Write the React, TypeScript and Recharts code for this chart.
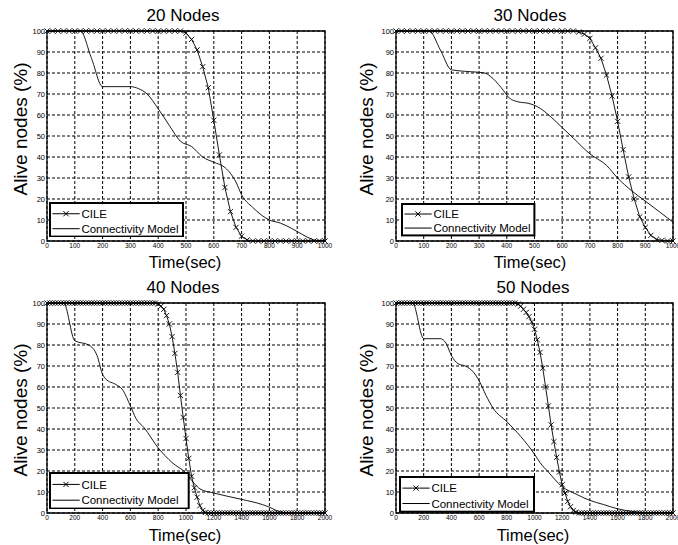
import React from "react";
import {
  LineChart,
  Line,
  XAxis,
  YAxis,
  CartesianGrid,
  ReferenceArea,
  Legend,
} from "recharts";

const FONT = "'Liberation Sans', Arial, Helvetica, sans-serif";

const yTicks = [0, 10, 20, 30, 40, 50, 60, 70, 80, 90, 100];
const xTicks1000 = [0, 100, 200, 300, 400, 500, 600, 700, 800, 900, 1000];
const xTicks2000 = [0, 200, 400, 600, 800, 1000, 1200, 1400, 1600, 1800, 2000];

// CILE sampled every 20 s
const cileTime1000 = [
  0, 20, 40, 60, 80, 100, 120, 140, 160, 180,
  200, 220, 240, 260, 280, 300, 320, 340, 360, 380,
  400, 420, 440, 460, 480, 500, 520, 540, 560, 580,
  600, 620, 640, 660, 680, 700, 720, 740, 760, 780,
  800, 820, 840, 860, 880, 900, 920, 940, 960, 980,
  1000,
];
const cileTime2000 = [
  0, 20, 40, 60, 80, 100, 120, 140, 160, 180,
  200, 220, 240, 260, 280, 300, 320, 340, 360, 380,
  400, 420, 440, 460, 480, 500, 520, 540, 560, 580,
  600, 620, 640, 660, 680, 700, 720, 740, 760, 780,
  800, 820, 840, 860, 880, 900, 920, 940, 960, 980,
  1000, 1020, 1040, 1060, 1080, 1100, 1120, 1140, 1160, 1180,
  1200, 1220, 1240, 1260, 1280, 1300, 1320, 1340, 1360, 1380,
  1400, 1420, 1440, 1460, 1480, 1500, 1520, 1540, 1560, 1580,
  1600, 1620, 1640, 1660, 1680, 1700, 1720, 1740, 1760, 1780,
  1800, 1820, 1840, 1860, 1880, 1900, 1920, 1940, 1960, 1980,
  2000,
];

const cile20 = [
  100, 100, 100, 100, 100, 100, 100, 100, 100, 100,
  100, 100, 100, 100, 100, 100, 100, 100, 100, 100,
  100, 100, 100, 100, 100, 99, 96, 91, 83, 73,
  57.5, 41, 25.5, 14, 6.5, 2.3, 0.5, 0, 0, 0,
  0, 0, 0, 0, 0, 0, 0, 0, 0, 0,
  0,
];
const cile30 = [
  100, 100, 100, 100, 100, 100, 100, 100, 100, 100,
  100, 100, 100, 100, 100, 100, 100, 100, 100, 100,
  100, 100, 100, 100, 100, 100, 100, 100, 100, 100,
  100, 100, 100, 99.5, 98.5, 96.5, 92, 87, 79, 69,
  57, 43.5, 30.5, 20, 11.5, 6.5, 2.7, 0.8, 0.3, 0,
  0,
];
const cile40 = [
  100, 100, 100, 100, 100, 100, 100, 100, 100, 100,
  100, 100, 100, 100, 100, 100, 100, 100, 100, 100,
  100, 100, 100, 100, 100, 100, 100, 100, 100, 100,
  100, 100, 100, 100, 100, 100, 100, 100, 100, 100,
  99.5, 98.5, 97, 94, 90, 84, 76, 67, 56, 45.5,
  35.5, 26, 17.5, 12, 7.5, 3.5, 1.2, 0.3, 0, 0,
  0, 0, 0, 0, 0, 0, 0, 0, 0, 0,
  0, 0, 0, 0, 0, 0, 0, 0, 0, 0,
  0, 0, 0, 0, 0, 0, 0, 0, 0, 0,
  0, 0, 0, 0, 0, 0, 0, 0, 0, 0,
  0,
];
const cile50 = [
  100, 100, 100, 100, 100, 100, 100, 100, 100, 100,
  100, 100, 100, 100, 100, 100, 100, 100, 100, 100,
  100, 100, 100, 100, 100, 100, 100, 100, 100, 100,
  100, 100, 100, 100, 100, 100, 100, 100, 100, 100,
  100, 100, 100, 100, 99.5, 98.5, 97, 95.5, 93.5, 91,
  87.5, 82.5, 76.5, 69, 60, 51, 42, 34, 26.5, 19.5,
  13.5, 9.5, 5.5, 3, 1.2, 0.4, 0, 0, 0, 0,
  0, 0, 0, 0, 0, 0, 0, 0, 0, 0,
  0, 0, 0, 0, 0, 0, 0, 0, 0, 0,
  0, 0, 0, 0, 0, 0, 0, 0, 0, 0,
  0,
];

// Connectivity Model
const connTime20 = [0, 120, 160, 200, 300, 330, 360, 400, 440, 480, 520, 560, 600, 640, 680, 700, 740, 800, 840, 880, 920, 950, 970, 1000];
const conn20 = [100, 100, 87, 73.5, 73.5, 72.5, 70, 63, 55, 47.5, 45, 40, 37.5, 35, 28, 22, 16, 10, 8.5, 6, 3, 1, 0.3, 0.3];

const connTime30 = [0, 120, 160, 200, 250, 320, 340, 380, 410, 440, 480, 510, 560, 600, 640, 700, 760, 800, 850, 900, 950, 1000];
const conn30 = [100, 100, 91, 81.5, 80.8, 80, 78.5, 73, 68, 66.3, 65.5, 64, 59, 54, 49, 41.5, 36, 30, 24, 19, 14, 9];

const connTime40 = [0, 120, 200, 300, 360, 400, 420, 500, 540, 600, 640, 700, 800, 900, 1000, 1060, 1100, 1200, 1400, 1550, 1600, 1650, 1700, 1800, 2000];
const conn40 = [100, 100, 82, 80, 75, 66, 64, 61, 59, 51, 45, 40.5, 31, 24, 19, 14, 11.5, 9.5, 6.5, 4, 2.8, 1.2, 0.3, 0, 0];

const connTime50 = [0, 120, 200, 320, 360, 400, 450, 500, 560, 600, 650, 700, 800, 900, 1000, 1040, 1100, 1200, 1300, 1400, 1500, 1600, 1700, 1800, 2000];
const conn50 = [100, 100, 83, 83, 81, 75, 71, 70, 67, 63, 56, 50, 43.5, 36.5, 28, 24, 19.5, 12.5, 9, 6, 4, 2, 0.8, 0.2, 0];

const toPoints = (t: number[], v: number[]) => t.map((x, i) => ({ t: x, v: v[i] }));

const Y_AXIS_W = 30;
const X_AXIS_H = 14;

const panels = [
  {
    title: "20 Nodes", cile: toPoints(cileTime1000, cile20), conn: toPoints(connTime20, conn20),
    xMax: 1000, xTicks: xTicks1000,
    left: 0, top: 0, width: 339, height: 270, plot: { top: 31, right: 14, bottom: 29, left: 47 },
    titleX: 183, titleY: 21.7, xlabX: 185, xlabY: 268.3, ylabX: 20, ylabY: 129,
    legend: { x: 49.3, y: 201.7, w: 135, h: 35.6 },
  },
  {
    title: "30 Nodes", cile: toPoints(cileTime1000, cile30), conn: toPoints(connTime30, conn30),
    xMax: 1000, xTicks: xTicks1000,
    left: 339, top: 0, width: 339, height: 270, plot: { top: 31, right: 5, bottom: 29, left: 57 },
    titleX: 530, titleY: 21.7, xlabX: 530, xlabY: 268.3, ylabX: 366, ylabY: 129,
    legend: { x: 62.3, y: 203.3, w: 134.4, h: 33.4 },
  },
  {
    title: "40 Nodes", cile: toPoints(cileTime2000, cile40), conn: toPoints(connTime40, conn40),
    xMax: 2000, xTicks: xTicks2000,
    left: 0, top: 270, width: 339, height: 275, plot: { top: 33, right: 14, bottom: 32, left: 47 },
    titleX: 183, titleY: 293.3, xlabX: 185, xlabY: 541, ylabX: 20, ylabY: 410,
    legend: { x: 49.3, y: 201.7, w: 140.7, h: 37.6 },
  },
  {
    title: "50 Nodes", cile: toPoints(cileTime2000, cile50), conn: toPoints(connTime50, conn50),
    xMax: 2000, xTicks: xTicks2000,
    left: 339, top: 270, width: 339, height: 275, plot: { top: 33, right: 5, bottom: 32, left: 57 },
    titleX: 533, titleY: 293.3, xlabX: 533, xlabY: 541, ylabX: 366, ylabY: 410,
    legend: { x: 60, y: 206, w: 136, h: 36.7 },
  },
];

const crossDot = (props: any) => {
  const { cx, cy, index } = props;
  if (cx == null || cy == null) return <g key={index} />;
  const s = 2.6;
  return (
    <path
      key={index}
      d={`M${cx - s},${cy - s}L${cx + s},${cy + s}M${cx - s},${cy + s}L${cx + s},${cy - s}`}
      stroke="#000"
      strokeWidth={0.9}
      fill="none"
    />
  );
};

function LegendBox({ w, h }: { w: number; h: number }) {
  const r1 = h * 0.33;
  const r2 = h * 0.75;
  return (
    <svg width={w} height={h} style={{ display: "block" }}>
      <rect x={1} y={1} width={w - 2} height={h - 2} fill="#fff" stroke="#000" strokeWidth={2} />
      <line x1={3.4} x2={30.7} y1={r1} y2={r1} stroke="#000" strokeWidth={1} />
      <path d={`M14.4,${r1 - 2.6}L19.6,${r1 + 2.6}M14.4,${r1 + 2.6}L19.6,${r1 - 2.6}`} stroke="#000" strokeWidth={1} />
      <text x={32.4} y={r1} dy="0.36em" fontSize={11.5} fontFamily={FONT} fill="#000">CILE</text>
      <line x1={3.4} x2={30.7} y1={r2} y2={r2} stroke="#000" strokeWidth={1} />
      <text x={32.4} y={r2} dy="0.36em" fontSize={11.5} fontFamily={FONT} fill="#000">Connectivity Model</text>
    </svg>
  );
}

const textAt = (x: number, baseline: number, size: number, label: string, key: string) => (
  <div
    key={key}
    style={{
      position: "absolute",
      left: x,
      top: baseline - 0.8465 * size,
      transform: "translateX(-50%)",
      fontSize: size,
      lineHeight: 1,
      whiteSpace: "nowrap",
      fontFamily: FONT,
      color: "#000",
    }}
  >
    {label}
  </div>
);

export default function App() {
  return (
    <div
      style={{
        position: "absolute",
        left: 0,
        top: 0,
        width: 678,
        height: 545,
        background: "#fff",
        overflow: "hidden",
        fontFamily: FONT,
      }}
    >
      {panels.map((p, i) => (
        <React.Fragment key={i}>
          <div style={{ position: "absolute", left: p.left, top: p.top }}>
            <LineChart
              width={p.width}
              height={p.height}
              margin={{
                top: p.plot.top,
                right: p.plot.right,
                bottom: p.plot.bottom - X_AXIS_H,
                left: p.plot.left - Y_AXIS_W,
              }}
            >
              <CartesianGrid stroke="#000" strokeWidth={1} strokeDasharray="3 2" />
              <XAxis
                type="number"
                dataKey="t"
                domain={[0, p.xMax]}
                ticks={p.xTicks}
                interval={0}
                height={X_AXIS_H}
                tickSize={0}
                tickMargin={2}
                axisLine={false}
                tickLine={false}
                tick={{ fontSize: 6.5, fill: "#000", fontFamily: FONT }}
                allowDuplicatedCategory={false}
              />
              <YAxis
                type="number"
                domain={[0, 100]}
                ticks={yTicks}
                interval={0}
                width={Y_AXIS_W}
                tickSize={0}
                tickMargin={2}
                axisLine={false}
                tickLine={false}
                tick={{ fontSize: 7.5, fill: "#000", fontFamily: FONT }}
              />
              <ReferenceArea
                x1={0}
                x2={p.xMax}
                y1={0}
                y2={100}
                fill="none"
                stroke="#000"
                strokeWidth={1.3}
                ifOverflow="visible"
              />
              <Line
                data={p.conn}
                dataKey="v"
                type="monotone"
                stroke="#000"
                strokeWidth={0.9}
                dot={false}
                isAnimationActive={false}
              />
              <Line
                data={p.cile}
                dataKey="v"
                type="linear"
                stroke="#000"
                strokeWidth={0.9}
                dot={crossDot}
                isAnimationActive={false}
              />
              <Legend
                layout="vertical"
                align="center"
                verticalAlign="middle"
                wrapperStyle={{ left: p.legend.x, top: p.legend.y, width: p.legend.w, height: p.legend.h }}
                content={() => <LegendBox w={p.legend.w} h={p.legend.h} />}
              />
            </LineChart>
          </div>
          {textAt(p.titleX, p.titleY, 17, p.title, "t" + i)}
          {textAt(p.xlabX, p.xlabY, 16.5, "Time(sec)", "x" + i)}
          <div
            style={{
              position: "absolute",
              left: p.ylabX,
              top: p.ylabY,
              transform: "translate(-50%, -50%) rotate(-90deg)",
              fontSize: 19,
              lineHeight: 1,
              whiteSpace: "nowrap",
              fontFamily: FONT,
              color: "#000",
            }}
          >
            Alive nodes (%)
          </div>
        </React.Fragment>
      ))}
    </div>
  );
}
